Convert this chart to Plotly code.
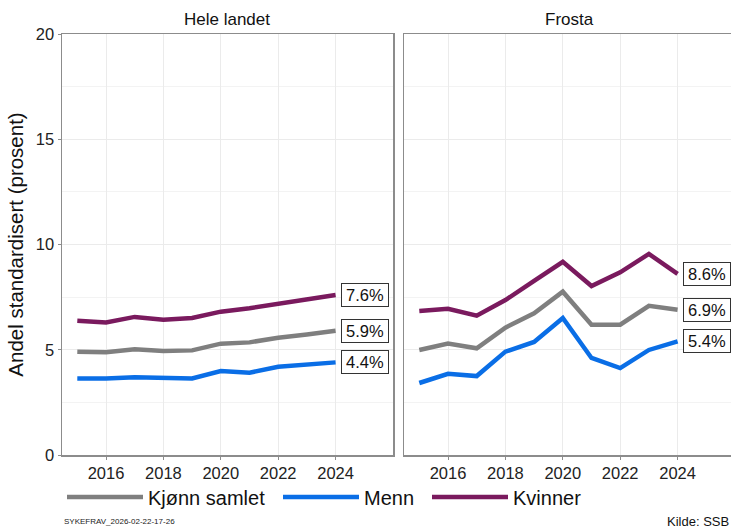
import plotly.graph_objects as go

years = [2015, 2016, 2017, 2018, 2019, 2020, 2021, 2022, 2023, 2024]

hele_kjonn = [4.91, 4.88, 5.02, 4.94, 4.97, 5.29, 5.35, 5.57, 5.72, 5.9]
hele_menn = [3.64, 3.63, 3.69, 3.64, 3.64, 3.99, 3.91, 4.19, 4.28, 4.4]
hele_kvinner = [6.38, 6.30, 6.56, 6.43, 6.51, 6.81, 6.97, 7.19, 7.40, 7.6]

frosta_kjonn = [4.99, 5.29, 5.07, 6.05, 6.73, 7.76, 6.19, 6.19, 7.09, 6.9]
frosta_menn = [3.42, 3.86, 3.75, 4.91, 5.37, 6.51, 4.61, 4.13, 4.99, 5.4]
frosta_kvinner = [6.84, 6.95, 6.62, 7.36, 8.27, 9.18, 8.03, 8.68, 9.55, 8.6]

series_names = ["Kjønn samlet", "Menn", "Kvinner"]
series_colors = ["#7f7f7f", "#0a6ee6", "#7a1a5e"]
panel_titles = ["Hele landet", "Frosta"]
y_ticks = [0, 5, 10, 15, 20]
x_ticks = [2016, 2018, 2020, 2022, 2024]

W, H = 731, 528
FONT = "Liberation Sans, Arial, sans-serif"

def px_x(p):
    return p / W

def px_y(p):
    return (H - p) / H

fig = go.Figure()

panels = [
    ("x", "y", [hele_kjonn, hele_menn, hele_kvinner]),
    ("x2", "y2", [frosta_kjonn, frosta_menn, frosta_kvinner]),
]
legend_ids = ["legend", "legend2", "legend3"]

for pi, (xa, ya, data) in enumerate(panels):
    for si, vals in enumerate(data):
        fig.add_trace(go.Scatter(
            x=years, y=vals, mode="lines",
            name=series_names[si],
            line=dict(color=series_colors[si], width=4.5),
            xaxis=xa, yaxis=ya,
            showlegend=(pi == 0),
            legend=legend_ids[si],
        ))
        fig.add_annotation(
            x=years[-1], y=vals[-1], xref=xa, yref=ya,
            text=f"{vals[-1]:.1f}%", showarrow=False,
            xanchor="left", yanchor="middle", xshift=5,
            width=42, align="center",
            font=dict(family=FONT, size=16.5, color="#111"),
            bordercolor="#333", borderwidth=1, borderpad=2,
            bgcolor="white",
        )

grid = "#ebebeb"
axcolor = "#8c8c8c"
ydom = [px_y(455), px_y(34)]

common_x = dict(
    tickvals=x_ticks, showgrid=True, gridcolor=grid, gridwidth=1,
    ticks="outside", ticklen=3, tickcolor=axcolor,
    tickfont=dict(family=FONT, size=16.5, color="#222"),
    showline=True, linecolor=axcolor, linewidth=1.5, zeroline=False,
    automargin=False,
)
common_y = dict(
    range=[0, 20], tickvals=y_ticks, showgrid=True, gridcolor=grid, gridwidth=1,
    minor=dict(tickvals=[2.5, 7.5, 12.5, 17.5], showgrid=True, gridcolor="#f3f3f3", gridwidth=1),
    ticks="outside", ticklen=3, tickcolor=axcolor,
    tickfont=dict(family=FONT, size=16.5, color="#222"),
    showline=True, linecolor=axcolor, linewidth=1.5, zeroline=False,
    domain=ydom, automargin=False,
)

x_per_px = 1 / 28.7
leg_common = dict(orientation="h", xanchor="left", yanchor="middle",
                  font=dict(family=FONT, size=20, color="#111"),
                  itemwidth=76, bgcolor="rgba(0,0,0,0)")
legend_line_starts = [70, 286, 435]

layout_legends = {}
for lid, start in zip(legend_ids, legend_line_starts):
    layout_legends[lid] = dict(leg_common, x=px_x(start - 8), y=px_y(497))

fig.update_layout(
    width=W, height=H,
    margin=dict(l=0, r=0, t=0, b=0, autoexpand=False),
    paper_bgcolor="white", plot_bgcolor="white",
    xaxis=dict(common_x, domain=[px_x(62), px_x(393)],
               range=[2016 - 44 * x_per_px, 2016 + (393 - 106) * x_per_px], mirror=True, anchor="y"),
    yaxis=dict(common_y, mirror=True, anchor="x",
               title=dict(text="Andel standardisert (prosent)",
                          font=dict(family=FONT, size=20.5, color="#111"), standoff=6)),
    xaxis2=dict(common_x, domain=[px_x(404), 1.0],
                range=[2016 - 44 * x_per_px, 2016 + (731 - 448) * x_per_px], mirror=True, anchor="y2"),
    yaxis2=dict(common_y, anchor="x2", side="left", showticklabels=False, ticks="", mirror=False),
    showlegend=True,
    hovermode=False,
    **layout_legends,
)

# facet titles
for title, (a, b) in zip(panel_titles, [(62, 393), (404, 735)]):
    fig.add_annotation(
        x=px_x((a + b) / 2), y=px_y(20), xref="paper", yref="paper",
        text=title, showarrow=False, xanchor="center", yanchor="middle",
        font=dict(family=FONT, size=17, color="#111"),
    )

fig.add_annotation(
    x=px_x(62), y=px_y(521), xref="paper", yref="paper",
    text="SYKEFRAV_2026-02-22-17-26", showarrow=False,
    xanchor="left", yanchor="middle", font=dict(family=FONT, size=8, color="#222"),
)
fig.add_annotation(
    x=1.0, y=px_y(521), xref="paper", yref="paper",
    text="Kilde: SSB", showarrow=False,
    xanchor="right", yanchor="middle", font=dict(family=FONT, size=13, color="#111"),
)

# remove the default page margin so the figure fills the window exactly
fig.write_html(
    "out.html",
    config={"displayModeBar": False, "staticPlot": True},
    post_script="document.body.style.margin='0px';"
                "document.documentElement.style.overflow='hidden';"
                "document.body.style.overflow='hidden';",
)
